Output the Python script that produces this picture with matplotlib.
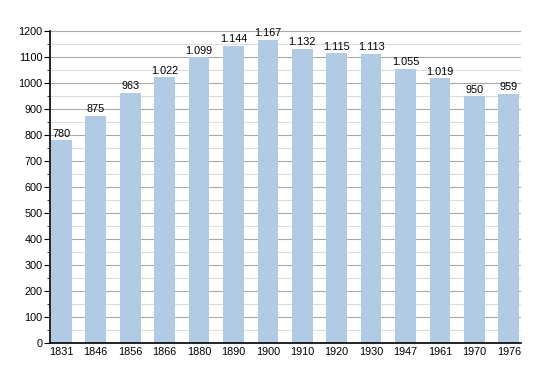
import matplotlib.pyplot as plt
from matplotlib.ticker import MultipleLocator

plt.rcParams['font.family'] = ['Liberation Sans', 'DejaVu Sans']

# population by census year
years = ['1831', '1846', '1856', '1866', '1880', '1890', '1900',
         '1910', '1920', '1930', '1947', '1961', '1970', '1976']
population = [780, 875, 963, 1022, 1099, 1144, 1167,
              1132, 1115, 1113, 1055, 1019, 950, 959]
value_labels = ['780', '875', '963', '1.022', '1.099', '1.144', '1.167',
                '1.132', '1.115', '1.113', '1.055', '1.019', '950', '959']

fig = plt.figure(figsize=(5.5, 3.73), dpi=100)
ax = fig.add_axes([0.0909, 0.0804, 0.856, 0.8365])

x = range(len(years))
bars = ax.bar(x, population, width=0.6, color='#b2cbe5', zorder=3)

for b, lab in zip(bars, value_labels):
    ax.text(b.get_x() + b.get_width() / 2, b.get_height() + 5, lab,
            ha='center', va='bottom', fontsize=7.8, zorder=4)

ax.set_xlim(-0.33, 13.35)
ax.set_ylim(0, 1200)
ax.set_xticks(list(x))
ax.set_xticklabels(years, fontsize=7.8)
ax.tick_params(axis='x', length=0, pad=3)
ax.yaxis.set_major_locator(MultipleLocator(100))
ax.yaxis.set_minor_locator(MultipleLocator(50))
ax.tick_params(axis='y', which='major', length=4, labelsize=7.8, pad=1.5)
ax.tick_params(axis='y', which='minor', length=2.5)

ax.grid(axis='y', which='major', color='#a8a8a8', linewidth=0.8, zorder=0)
ax.grid(axis='y', which='minor', color='#dddddd', linewidth=0.8, zorder=0)

for s in ['top', 'right']:
    ax.spines[s].set_visible(False)
ax.spines['left'].set_linewidth(1.2)
ax.spines['bottom'].set_linewidth(1.2)
ax.spines['left'].set_zorder(5)
ax.spines['bottom'].set_zorder(5)

fig.savefig('out.png', dpi=100)
